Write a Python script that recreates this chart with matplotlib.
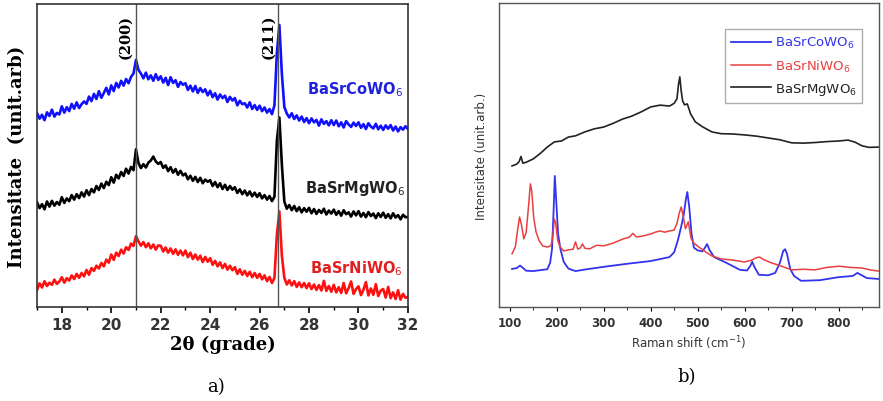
import numpy as np
import matplotlib.pyplot as plt
from matplotlib.ticker import MultipleLocator, NullLocator

# ---- XRD data (a) : 2theta grid, step 0.1 deg ----
two_theta = np.round(np.arange(17.0, 32.05, 0.1), 2)

xrd_co = [63.9, 62.1, 63.4, 61.6, 64.2, 63.0, 65.1, 62.8, 64.0, 63.5,
          66.2, 64.1, 65.9, 64.6, 67.0, 65.4, 67.5, 65.6, 66.9, 67.8,
          67.0, 69.4, 67.9, 70.3, 68.6, 71.2, 69.0, 70.6, 72.3, 70.1,
          73.1, 71.2, 73.9, 72.4, 74.6, 73.0, 75.2, 73.8, 75.9, 77.0,
          81.5, 78.2, 77.0, 75.4, 77.3, 75.1, 76.4, 74.6, 76.8, 74.9,
          76.1, 74.0, 75.6, 73.2, 75.8, 73.9, 74.8, 72.6, 74.2, 73.3,
          73.8, 71.6, 73.0, 71.1, 72.9, 70.6, 72.2, 70.9, 71.8, 69.8,
          71.3, 69.2, 70.5, 68.4, 70.1, 68.9, 69.7, 67.6, 69.3, 68.1,
          68.9, 66.5, 68.0, 66.9, 67.2, 65.8, 67.5, 65.3, 66.6, 65.0,
          66.4, 64.6, 65.8, 64.1, 65.3, 63.6, 66.5, 84.0, 93.0, 77.0,
          66.0, 63.8, 62.5, 63.9, 62.0, 63.2, 61.5, 62.8, 61.0, 62.3,
          60.6, 62.2, 60.9, 61.7, 59.8, 61.9, 60.4, 61.3, 59.9, 61.6,
          60.0, 61.5, 59.6, 60.9, 59.2, 61.3, 60.2, 59.4, 60.8, 59.7,
          60.9, 59.1, 60.3, 58.7, 60.6, 59.5, 58.9, 60.4, 58.6, 59.8,
          58.4, 59.9, 58.8, 60.0, 58.2, 59.5, 57.9, 59.3, 58.5, 59.6,
          58.7]

xrd_mg = [34.5, 32.6, 33.9, 32.2, 34.8, 33.1, 35.0, 33.4, 34.6, 33.7,
          36.2, 34.3, 35.8, 34.9, 36.9, 35.4, 37.2, 35.9, 37.8, 36.4,
          38.5, 36.9, 38.9, 37.8, 39.9, 38.6, 40.7, 39.2, 41.3, 40.2,
          42.8, 41.0, 43.6, 42.4, 44.5, 43.2, 45.6, 44.0, 46.2, 45.1,
          52.0, 47.5, 45.8, 47.1, 46.0, 47.6, 48.3, 49.6, 48.0, 47.2,
          47.8, 45.9, 46.7, 44.8, 46.1, 44.3, 45.5, 43.6, 44.9, 43.4,
          44.0, 42.1, 43.3, 41.6, 42.9, 41.2, 42.6, 40.8, 42.0, 41.3,
          41.8, 39.9, 41.2, 39.5, 40.8, 38.9, 40.3, 38.6, 39.9, 38.7,
          39.5, 37.6, 38.8, 37.2, 38.4, 36.8, 38.1, 36.5, 37.7, 36.3,
          37.5, 35.8, 36.9, 35.4, 36.6, 34.9, 36.4, 55.0, 62.5, 47.0,
          34.8, 32.4, 33.6, 31.9, 33.3, 31.6, 32.9, 31.2, 32.6, 31.4,
          32.7, 30.9, 32.3, 30.7, 32.0, 31.0, 32.4, 30.5, 31.8, 30.8,
          32.1, 30.4, 31.6, 30.1, 31.9, 30.6, 31.2, 29.8, 31.5, 30.2,
          31.6, 29.8, 31.0, 29.6, 31.3, 30.0, 30.8, 29.3, 30.9, 29.7,
          31.1, 29.4, 30.6, 29.2, 30.9, 29.5, 30.3, 28.9, 30.4, 29.6,
          29.7]

xrd_ni = [5.6, 7.8, 6.4, 8.5, 6.9, 8.0, 7.3, 9.0, 7.6, 8.4,
          9.8, 8.0, 9.5, 8.7, 10.4, 9.2, 10.9, 9.6, 11.2, 10.1,
          12.2, 10.6, 12.8, 11.9, 13.6, 12.7, 14.5, 13.4, 15.6, 14.6,
          17.3, 15.5, 17.9, 16.8, 18.9, 17.6, 19.7, 18.8, 20.9, 20.1,
          23.4, 21.6, 20.2, 21.4, 19.7, 21.0, 19.3, 20.6, 18.9, 20.3,
          20.2, 18.3, 19.6, 17.9, 19.3, 17.5, 19.0, 17.2, 18.6, 17.0,
          18.6, 16.4, 17.9, 15.8, 17.3, 15.6, 16.9, 14.8, 16.5, 14.9,
          16.1, 13.9, 15.2, 13.4, 14.7, 12.8, 14.2, 12.3, 13.6, 12.1,
          13.1, 10.9, 12.4, 10.6, 11.9, 10.2, 11.6, 9.8, 11.2, 9.6,
          10.9, 9.1, 10.4, 8.5, 9.9, 7.9, 9.6, 24.0, 31.5, 17.0,
          9.6, 7.4, 8.8, 7.1, 8.5, 6.6, 8.1, 6.5, 7.9, 6.2,
          7.8, 5.9, 7.4, 5.6, 7.2, 5.4, 8.6, 5.3, 6.9, 5.0,
          7.3, 4.8, 6.5, 4.6, 7.9, 4.5, 6.2, 8.4, 4.3, 5.9,
          6.8, 3.9, 5.7, 8.2, 3.8, 6.1, 4.0, 7.5, 3.6, 5.4,
          5.9, 3.1, 6.6, 2.9, 4.8, 2.6, 5.5, 2.4, 4.3, 3.0,
          3.3]

peak_pos = [21.0, 26.76]
peak_hkl = ['(200)', '(211)']

# ---- Raman data (b) ----
raman_co_x = [105, 115, 122, 127, 135, 150, 165, 180, 186, 190, 193, 196, 199, 203, 208,
              215, 225, 240, 260, 300, 350, 400, 440, 450, 458, 465, 470, 475, 478, 482,
              487, 492, 500, 510, 516, 520, 525, 535, 560, 590, 605, 612, 616, 620, 630,
              650, 665, 675, 682, 686, 690, 697, 705, 720, 760, 800, 830, 840, 848, 860, 885]
raman_co_y = [12.5, 12.8, 13.6, 13.0, 11.9, 11.8, 12.1, 12.4, 14.5, 19.0, 30.0, 43.1, 35.0, 24.0, 19.0,
              14.8, 12.6, 11.8, 12.3, 13.2, 14.2, 15.1, 16.4, 18.0, 22.0, 26.5, 30.0, 35.5, 37.8, 33.0,
              24.0, 19.5, 18.6, 18.3, 19.6, 20.7, 18.8, 16.4, 14.6, 12.2, 12.0, 13.5, 14.9, 13.4, 10.6,
              10.4, 11.2, 14.5, 18.4, 19.0, 17.5, 12.5, 10.2, 8.6, 8.8, 9.8, 10.2, 11.2, 10.5, 9.5, 9.2]

raman_ni_x = [105, 112, 117, 121, 125, 130, 135, 140, 144, 147, 151, 156, 162, 170, 180,
              188, 192, 195, 198, 202, 207, 215, 225, 235, 240, 245, 250, 255, 260, 270,
              285, 300, 320, 340, 355, 362, 370, 385, 400, 410, 420, 430, 440, 450, 456,
              461, 465, 469, 474, 480, 486, 492, 500, 515, 530, 550, 575, 600, 615, 625,
              632, 640, 655, 675, 700, 725, 750, 775, 800, 825, 850, 870, 885]
raman_ni_y = [17.5, 19.8, 25.5, 29.6, 27.0, 22.4, 24.5, 33.0, 40.5, 38.0, 29.5, 24.7, 22.0, 20.1, 19.7,
              20.2, 23.5, 28.9, 27.5, 22.0, 19.8, 18.4, 18.8, 19.0, 21.4, 19.0, 19.4, 20.7, 19.3, 19.1,
              20.3, 20.1, 21.0, 22.3, 23.0, 24.2, 23.0, 23.4, 24.0, 24.6, 25.0, 24.6, 25.0, 25.3, 27.5,
              31.0, 32.9, 30.0, 25.7, 28.0, 22.5, 21.0, 20.0, 18.3, 16.8, 15.8, 15.4, 14.8, 15.4, 16.2,
              16.4, 15.6, 14.6, 13.6, 12.2, 12.4, 12.2, 13.0, 13.4, 13.0, 12.8, 12.1, 11.8]

raman_mg_x = [105, 115, 120, 124, 128, 135, 150, 165, 180, 195, 210, 225, 240, 260, 280,
              300, 320, 340, 360, 380, 400, 420, 440, 450, 456, 459, 462, 465, 468, 472,
              478, 485, 495, 510, 530, 550, 575, 600, 625, 650, 675, 700, 725, 750, 775,
              800, 820, 835, 850, 865, 885]
raman_mg_y = [46.4, 47.0, 47.8, 49.5, 47.3, 47.6, 48.7, 50.5, 52.6, 54.3, 54.6, 55.9, 56.3, 57.6, 58.6,
              59.2, 60.4, 61.8, 62.8, 64.2, 65.8, 66.4, 66.1, 67.0, 68.5, 73.0, 75.7, 71.0, 67.8, 66.5,
              66.8, 63.5, 60.9, 59.3, 57.6, 57.0, 56.9, 56.6, 56.2, 55.6, 55.0, 54.0, 53.9, 54.1, 54.4,
              54.6, 54.9, 54.2, 53.0, 52.5, 52.6]

fig = plt.figure(figsize=(8.83, 4.02), dpi=100)

# ---------------- panel a) ----------------
ax1 = fig.add_axes([0.042, 0.234, 0.420, 0.754])
ax1.plot(two_theta, xrd_co, color='#1010ff', lw=1.9)
ax1.plot(two_theta, xrd_mg, color='black', lw=1.9)
ax1.plot(two_theta, xrd_ni, color='#ff1010', lw=1.9)
for p, lab in zip(peak_pos, peak_hkl):
    ax1.axvline(p, color='#555555', lw=1.0)
    ax1.text(p - 0.42, 89.5, lab, rotation=90, ha='center', va='center',
             family='DejaVu Serif', fontweight='bold', fontsize=10.5)
ax1.text(29.85, 72, 'BaSrCoWO$_6$', color='#2020e0', fontweight='bold', fontsize=10.5,
         ha='center', va='center')
ax1.text(29.85, 39.5, 'BaSrMgWO$_6$', color='#222222', fontweight='bold', fontsize=10.5,
         ha='center', va='center')
ax1.text(29.9, 13, 'BaSrNiWO$_6$', color='#e02020', fontweight='bold', fontsize=10.5,
         ha='center', va='center')
ax1.set_xlim(17, 32)
ax1.set_ylim(0, 100)
ax1.xaxis.set_major_locator(MultipleLocator(2))
ax1.xaxis.set_minor_locator(MultipleLocator(1))
ax1.yaxis.set_major_locator(NullLocator())
ax1.tick_params(axis='x', which='major', length=4, width=1.2, labelsize=11)
ax1.tick_params(axis='x', which='minor', length=2.5, width=1.0)
for lbl in ax1.get_xticklabels():
    lbl.set_fontweight('bold')
    lbl.set_color('#333333')
ax1.set_xlabel('2θ (grade)', family='DejaVu Serif', fontweight='bold', fontsize=13, labelpad=2)
ax1.set_ylabel('Intensitate  (unit.arb)', family='DejaVu Serif', fontweight='bold',
               fontsize=13, labelpad=8)
for s in ax1.spines.values():
    s.set_linewidth(1.2)
    s.set_color('#333333')
fig.text(0.245, 0.025, 'a)', family='DejaVu Serif', fontsize=13, ha='center')

# ---------------- panel b) ----------------
ax2 = fig.add_axes([0.565, 0.234, 0.430, 0.756])
ax2.plot(raman_co_x, raman_co_y, color='#3333ee', lw=1.3, label='BaSrCoWO$_6$')
ax2.plot(raman_ni_x, raman_ni_y, color='#e84040', lw=1.1, label='BaSrNiWO$_6$')
ax2.plot(raman_mg_x, raman_mg_y, color='#222222', lw=1.2, label='BaSrMgWO$_6$')
ax2.set_xlim(77, 885)
ax2.set_ylim(0, 100)
ax2.xaxis.set_major_locator(MultipleLocator(100))
ax2.xaxis.set_minor_locator(MultipleLocator(50))
ax2.yaxis.set_major_locator(NullLocator())
ax2.tick_params(axis='x', which='major', length=3, labelsize=8.5, labelcolor='#333333')
ax2.tick_params(axis='x', which='minor', length=2)
for lbl in ax2.get_xticklabels():
    lbl.set_fontweight('bold')
ax2.set_xlabel('Raman shift (cm$^{-1}$)', fontsize=8.5, color='#333333', labelpad=3)
ax2.set_ylabel('Intensitate (unit.arb.)', fontsize=8.5, color='#333333', labelpad=8)
for s in ax2.spines.values():
    s.set_linewidth(1.0)
    s.set_color('#555555')
leg = ax2.legend(loc='upper right', bbox_to_anchor=(0.975, 0.935), fontsize=9.5,
                 frameon=True, fancybox=False, handlelength=3.0, borderpad=0.45,
                 labelspacing=0.55, handletextpad=0.3)
leg.get_frame().set_edgecolor('#999999')
for txt, ln in zip(leg.get_texts(), leg.get_lines()):
    txt.set_color(ln.get_color())
fig.text(0.778, 0.05, 'b)', family='DejaVu Serif', fontsize=13, ha='center')

fig.savefig('out.png', dpi=100)
